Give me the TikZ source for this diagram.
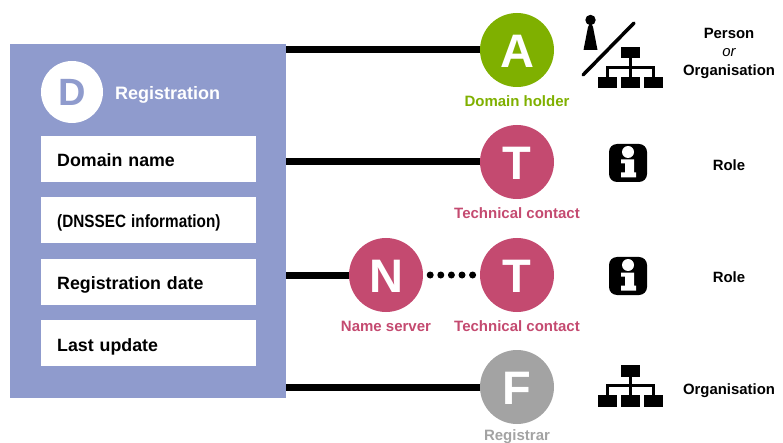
\documentclass[tikz,border=0pt]{standalone}
\usepackage{fontspec}
\setmainfont{Liberation Sans}
\definecolor{panelc}{HTML}{8F9BCD}
\definecolor{greenc}{HTML}{7FB000}
\definecolor{pinkc}{HTML}{C44A70}
\definecolor{greyc}{HTML}{A3A3A3}
\tikzset{
  field/.style={fill=white,minimum width=215pt,minimum height=46pt,inner sep=0pt,anchor=north west,text width=183pt,align=left,font=\bfseries\fontsize{17.8}{20}\selectfont},
  role/.style={circle,minimum size=74pt,inner sep=0pt,text=white,font=\bfseries\fontsize{47}{47}\selectfont},
  rolelabel/.style={font=\bfseries\fontsize{15}{17}\selectfont},
  kind/.style={font=\bfseries\fontsize{14.9}{18.5}\selectfont,align=center},
  link/.style={line width=7pt,black},
  dots/.style={line width=7pt,line cap=round,dash pattern=on 0pt off 10.6pt},
  ink/.style={fill=black,draw=none},
  inkline/.style={draw=black,line width=3pt}
}
\newcommand{\lowered}[2]{\raisebox{-#1pt}[\height][\depth]{#2}}
\newcommand{\orgicon}[2]{%
  \begin{scope}[shift={(#1,#2)}]
    \draw[inkline] (0,0) -- (0,18.5) (-23,19) -- (-23,9) -- (23,9) -- (23,19);
    \fill[ink] (-9.5,-11.5) rectangle (9.5,0);
    \fill[ink] (-32.5,18.5) rectangle (-13.5,30);
    \fill[ink] (-9.5,18.5) rectangle (9.5,30);
    \fill[ink] (13,18.5) rectangle (32,30);
  \end{scope}}
\newcommand{\infoicon}[2]{%
  \begin{scope}[shift={(#1,#2)}]
    \fill[ink,rounded corners=8pt] (-19,-19) rectangle (19,19);
    \fill[white] (0,-11) circle (6pt);
    \fill[white] (-7,-3.5) -- (6,-3.5) -- (6,9.5) -- (8,9.5) -- (8,14.5) -- (-7,14.5) -- (-7,9.5) -- (-3,9.5) -- (-3,0.5) -- (-7,0.5) -- cycle;
  \end{scope}}
\begin{document}
\begin{tikzpicture}[x=1pt,y=-1pt]
\useasboundingbox (0,0) rectangle (783,443);
% panel
\node[fill=panelc,minimum width=276pt,minimum height=354pt,inner sep=0pt,anchor=north west] (panel) at (10,44) {};
\node[circle,fill=white,minimum size=62pt,inner sep=0pt,text=panelc,font=\bfseries\fontsize{38}{38}\selectfont] (D) at (72,92) {D};
\node[text=white,anchor=west,inner sep=0pt,font=\bfseries\fontsize{18}{20}\selectfont] (reg) at (115,95) {Registration};
\node[field] (f1) at (41,136) {\lowered{1}{Domain name}};
\node[field] (f2) at (41,197) {\lowered{3}{\scalebox{.86}[1]{(DNSSEC information)}}};
\node[field] (f3) at (41,259) {\lowered{3}{Registration date}};
\node[field] (f4) at (41,320) {\lowered{4}{Last update}};
% roles
\node[role,fill=greenc] (A) at (517,50) {\lowered{1}{A}};
\node[role,fill=pinkc] (T1) at (517,162) {\lowered{1}{T}};
\node[role,fill=pinkc] (N) at (386,275) {\lowered{1}{N}};
\node[role,fill=pinkc] (T2) at (517,275) {\lowered{1}{T}};
\node[role,fill=greyc] (F) at (517,387) {\lowered{1}{F}};
\node[rolelabel,text=greenc] (lA) at (517,101) {Domain holder};
\node[rolelabel,text=pinkc] (lT1) at (517,213) {Technical contact};
\node[rolelabel,text=pinkc] (lN) at (386,326) {Name server};
\node[rolelabel,text=pinkc] (lT2) at (517,326) {Technical contact};
\node[rolelabel,text=greyc,inner sep=0pt] (lF) at (517,436.5) {Registrar};
% connectors
\draw[link] (panel.east |- A) -- (A.west);
\draw[link] (panel.east |- T1) -- (T1.west);
\draw[link] (panel.east |- N) -- (N.west);
\draw[link] (panel.east |- F) -- (F.west);
\draw[dots] ([xshift=7pt]N.east) -- ([xshift=-1pt]T2.west);
% icons
\fill[ink] (590.5,20) circle (5.2pt);
\fill[ink] (590.5,22) -- (593,27) -- (597.5,50) -- (583.5,50) -- (588,27) -- cycle;
\draw[black,line width=3.5pt,line cap=round] (583,75) -- (634,23);
\orgicon{630.5}{58.5}
\infoicon{628}{163}
\infoicon{628}{276}
\orgicon{630.5}{376.5}
% kinds
\node[kind] (k1) at (729,53) {Person\\{\mdseries\itshape or}\\Organisation};
\node[kind] (k2) at (729,165) {Role};
\node[kind] (k3) at (729,277) {Role};
\node[kind] (k4) at (729,391) {Organisation};
\end{tikzpicture}
\end{document}
